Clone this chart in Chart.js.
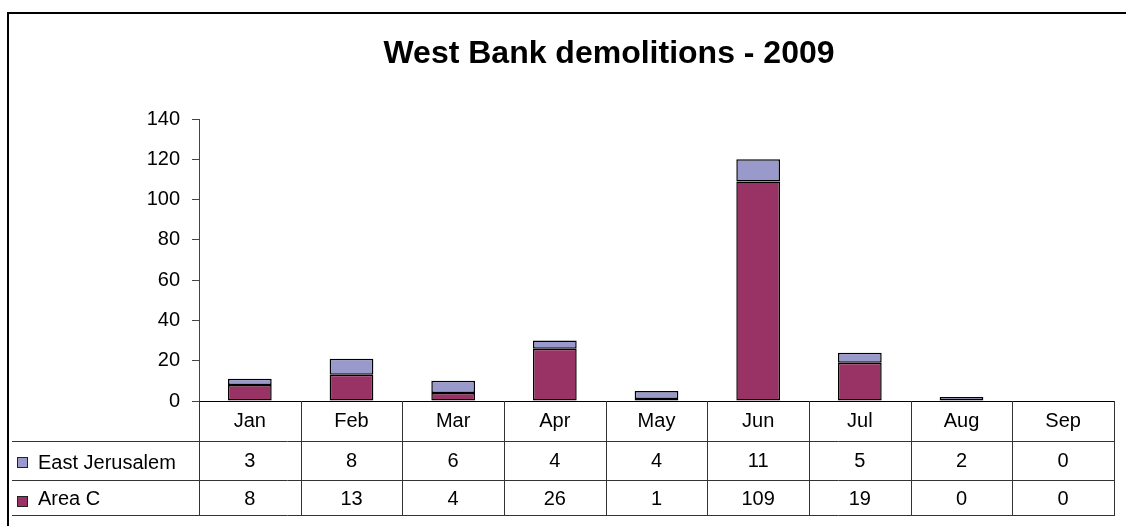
<!DOCTYPE html>
<html>
<head>
<meta charset="utf-8">
<script src="https://cdn.jsdelivr.net/npm/chart.js@4.4.1/dist/chart.umd.min.js"></script>
<style>
  html, body { margin: 0; padding: 0; background: #ffffff; }
  #wrap { width: 1126px; height: 526px; position: relative; }
</style>
</head>
<body>
<div id="wrap"><canvas id="c" width="1126" height="526"></canvas></div>
<script>
const chartTitle = 'West Bank demolitions - 2009';
const months = ['Jan', 'Feb', 'Mar', 'Apr', 'May', 'Jun', 'Jul', 'Aug', 'Sep'];
const eastJerusalem = [3, 8, 6, 4, 4, 11, 5, 2, 0];
const areaC = [8, 13, 4, 26, 1, 109, 19, 0, 0];
const seriesNames = ['East Jerusalem', 'Area C'];
const yMin = 0, yMax = 140, yStep = 20;

const COL_EJ = '#9999CC';
const COL_AC = '#993366';
const FONT = '"Liberation Sans", Arial, sans-serif';

const decorPlugin = {
  id: 'decor',
  afterDraw(chart) {
    const ctx = chart.ctx;
    const xs = chart.scales.x;
    const ca = chart.chartArea;
    const n = months.length;
    const colW = (ca.right - ca.left) / n;
    const yTop = ca.bottom;
    const r1 = 441, r2 = 480, r3 = 515;
    ctx.save();

    // Title
    ctx.fillStyle = '#000';
    ctx.font = 'bold 32px ' + FONT;
    ctx.textAlign = 'center';
    ctx.textBaseline = 'alphabetic';
    ctx.fillText(chartTitle, 609, 63);

    // Table lines
    ctx.strokeStyle = '#333';
    ctx.lineWidth = 1;
    ctx.beginPath();
    [r1, r2, r3].forEach(y => { ctx.moveTo(12, y + 0.5); ctx.lineTo(ca.right, y + 0.5); });
    for (let i = 0; i <= n; i++) {
      const x = Math.round(ca.left + i * colW) + 0.5;
      ctx.moveTo(x, yTop);
      ctx.lineTo(x, r3 + 1);
    }
    ctx.stroke();

    // Month labels and values
    ctx.font = '20px ' + FONT;
    ctx.fillStyle = '#000';
    ctx.textAlign = 'center';
    for (let i = 0; i < n; i++) {
      const cx = xs.getPixelForValue(i);
      ctx.fillText(months[i], cx, 427);
      ctx.fillText(String(eastJerusalem[i]), cx, 467);
      ctx.fillText(String(areaC[i]), cx, 505);
    }

    // Legend keys in the table
    ctx.textAlign = 'left';
    const keys = [[COL_EJ, 457, 469], [COL_AC, 496, 505]];
    keys.forEach((k, i) => {
      ctx.fillStyle = k[0];
      ctx.fillRect(17, k[1], 11, 11);
      ctx.strokeStyle = '#222';
      ctx.strokeRect(17.5, k[1] + 0.5, 10, 10);
      ctx.fillStyle = '#000';
      ctx.fillText(seriesNames[i], 38, k[2]);
    });

    // Outer border
    ctx.strokeStyle = '#000';
    ctx.lineWidth = 2;
    ctx.beginPath();
    ctx.moveTo(8, 540);
    ctx.lineTo(8, 13);
    ctx.lineTo(1140, 13);
    ctx.stroke();
    ctx.restore();
  }
};

const bw = (c) => (c.raw === 0 ? 0 : 1.5);

new Chart(document.getElementById('c'), {
  type: 'bar',
  data: {
    labels: months,
    datasets: [
      { label: seriesNames[1], data: areaC, backgroundColor: COL_AC, borderColor: '#000', borderWidth: bw, borderSkipped: false, inflateAmount: 0 },
      { label: seriesNames[0], data: eastJerusalem, backgroundColor: COL_EJ, borderColor: '#000', borderWidth: bw, borderSkipped: false, inflateAmount: 0 }
    ]
  },
  options: {
    responsive: false,
    animation: false,
    devicePixelRatio: 1,
    layout: { padding: { left: 0, right: 12, top: 119, bottom: 0 } },
    datasets: { bar: { categoryPercentage: 1.0, barPercentage: 0.43 } },
    plugins: { legend: { display: false }, title: { display: false }, tooltip: { enabled: false } },
    scales: {
      x: {
        stacked: true,
        grid: { display: false },
        border: { display: true, color: '#000', width: 1 },
        ticks: { display: false },
        afterFit: (s) => { s.height = 125; }
      },
      y: {
        stacked: true,
        min: yMin, max: yMax,
        ticks: { stepSize: yStep, padding: 12, color: '#000', font: { family: FONT, size: 20 } },
        grid: { display: true, drawOnChartArea: false, drawTicks: true, tickLength: 7, color: '#444' },
        border: { display: true, color: '#444', width: 1 },
        afterFit: (s) => { s.width = 199; }
      }
    }
  },
  plugins: [decorPlugin]
});
</script>
</body>
</html>
